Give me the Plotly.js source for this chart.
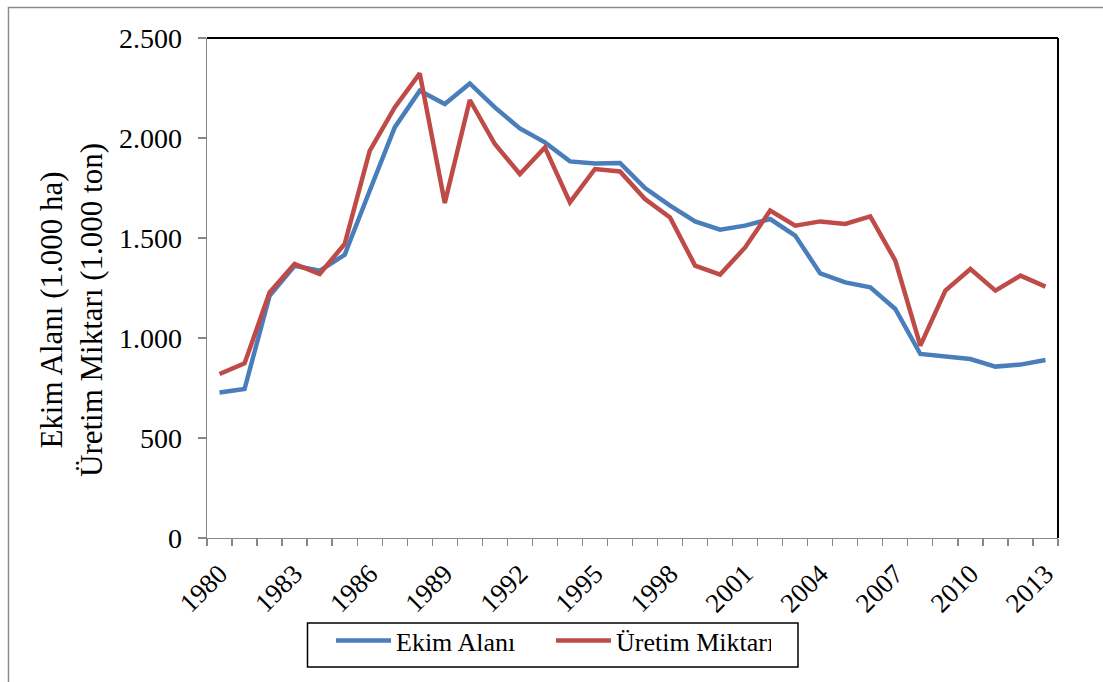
<!DOCTYPE html>
<html>
<head>
<meta charset="utf-8">
<script src="https://cdn.plot.ly/plotly-3.0.1.min.js"></script>
<style>
  html, body { margin: 0; padding: 0; background: #fff; }
  #chart { width: 1103px; height: 682px; }
</style>
</head>
<body>
<div id="chart"></div>
<script>
// Yearly series, 1980-2013 (values in thousands)
const years = [1980, 1981, 1982, 1983, 1984, 1985, 1986, 1987, 1988, 1989,
               1990, 1991, 1992, 1993, 1994, 1995, 1996, 1997, 1998, 1999,
               2000, 2001, 2002, 2003, 2004, 2005, 2006, 2007, 2008, 2009,
               2010, 2011, 2012, 2013];

// Ekim Alanı (1.000 ha)
const ekimAlani = [728, 745, 1211, 1361, 1336, 1416, 1736, 2053, 2236, 2170,
                   2273, 2153, 2048, 1978, 1883, 1873, 1875, 1750, 1662, 1583,
                   1542, 1562, 1595, 1512, 1323, 1278, 1253, 1145, 920, 907,
                   895, 857, 867, 890];

// Üretim Miktarı (1.000 ton)
const uretimMiktari = [820, 873, 1228, 1370, 1320, 1470, 1936, 2153, 2323, 1675,
                       2190, 1970, 1820, 1953, 1678, 1845, 1833, 1695, 1603, 1362,
                       1317, 1453, 1637, 1562, 1583, 1570, 1608, 1387, 962, 1237,
                       1345, 1237, 1312, 1257];

const labelYears = [1980, 1983, 1986, 1989, 1992, 1995, 1998, 2001, 2004, 2007, 2010, 2013];
const labelText = labelYears.map(String);
const yTicks = [0, 500, 1000, 1500, 2000, 2500];

const seriesNames = ['Ekim Alanı', 'Üretim Miktarı'];
const yTitleLines = ['Ekim Alanı (1.000 ha)', 'Üretim Miktarı (1.000 ton)'];

// tick marks sit between the yearly categories
const boundaries = years.map(y => y - 0.5).concat([years[years.length - 1] + 0.5]);

const FONT = 'Liberation Serif';
const GRAY = '#878787';

// pixel helpers for the plot box (l=207, t=38, w=851, h=500)
const PL = 207, PT = 38, PW = 851, PH = 500;
const px = v => (v - PL) / PW;
const py = v => (PT + PH - v) / PH;

const traces = [
  {
    x: years, y: ekimAlani, name: seriesNames[0],
    type: 'scatter', mode: 'lines',
    line: { color: '#4A7EBB', width: 4.5 }
  },
  {
    x: years, y: uretimMiktari, name: seriesNames[1],
    type: 'scatter', mode: 'lines',
    line: { color: '#BE4B48', width: 4.5 }
  }
];

const layout = {
  width: 1103, height: 682,
  margin: { l: PL, r: 1103 - PL - PW, t: PT, b: 682 - PT - PH },
  paper_bgcolor: '#fff', plot_bgcolor: '#fff',
  separators: ',.',
  font: { family: FONT, color: '#000', size: 26 },
  showlegend: true,
  legend: {
    orientation: 'h',
    x: px(331), xanchor: 'left',
    y: py(617), yanchor: 'top',
    font: { family: FONT, size: 26, color: '#000' },
    bgcolor: 'rgba(0,0,0,0)',
    borderwidth: 0,
    itemwidth: 55,
    entrywidth: 150,
    traceorder: 'normal'
  },
  xaxis: {
    range: [1979.5, 2013.5],
    tickmode: 'array', tickvals: labelYears, ticktext: labelText,
    tickangle: -45,
    ticks: '',
    ticklabelstandoff: 8,
    tickfont: { family: FONT, size: 27, color: '#000' },
    showgrid: false, zeroline: false,
    showline: true, linecolor: GRAY, linewidth: 1.3,
    minor: { tickmode: 'array', tickvals: boundaries, ticks: 'outside', ticklen: 7, tickcolor: GRAY, tickwidth: 1.3, showgrid: false },
    fixedrange: true
  },
  yaxis: {
    range: [0, 2500],
    tickmode: 'array', tickvals: yTicks,
    tickformat: ',d',
    ticks: 'outside', ticklen: 8, tickcolor: GRAY, tickwidth: 1.3,
    ticklabelstandoff: 10,
    tickfont: { family: FONT, size: 28, color: '#000' },
    showgrid: false, zeroline: false,
    showline: true, linecolor: GRAY, linewidth: 1.3,
    fixedrange: true
  },
  annotations: [
    {
      xref: 'paper', yref: 'paper',
      x: px(71), y: py(310),
      xanchor: 'center', yanchor: 'middle',
      textangle: -90,
      showarrow: false,
      text: yTitleLines.join('<br>'),
      font: { family: FONT, size: 31, color: '#000' }
    }
  ],
  shapes: [
    // outer chart frame
    { type: 'rect', xref: 'paper', yref: 'paper', x0: px(8.5), x1: px(1120), y0: py(700), y1: py(7.5),
      line: { color: '#8c8c8c', width: 1.5 }, fillcolor: 'rgba(0,0,0,0)', layer: 'below' },
    // top and right edges of the plot box
    { type: 'line', xref: 'paper', yref: 'paper', x0: 0, x1: 1, y0: 1, y1: 1, line: { color: '#000', width: 2 } },
    { type: 'line', xref: 'paper', yref: 'paper', x0: 1, x1: 1, y0: 0, y1: 1, line: { color: '#000', width: 2 } },
    // legend box
    { type: 'rect', xref: 'paper', yref: 'paper', x0: px(307.5), x1: px(798), y0: py(667), y1: py(623),
      line: { color: '#000', width: 1.5 }, fillcolor: 'rgba(0,0,0,0)' }
  ]
};

Plotly.newPlot('chart', traces, layout, { displayModeBar: false, staticPlot: true });
</script>
</body>
</html>
